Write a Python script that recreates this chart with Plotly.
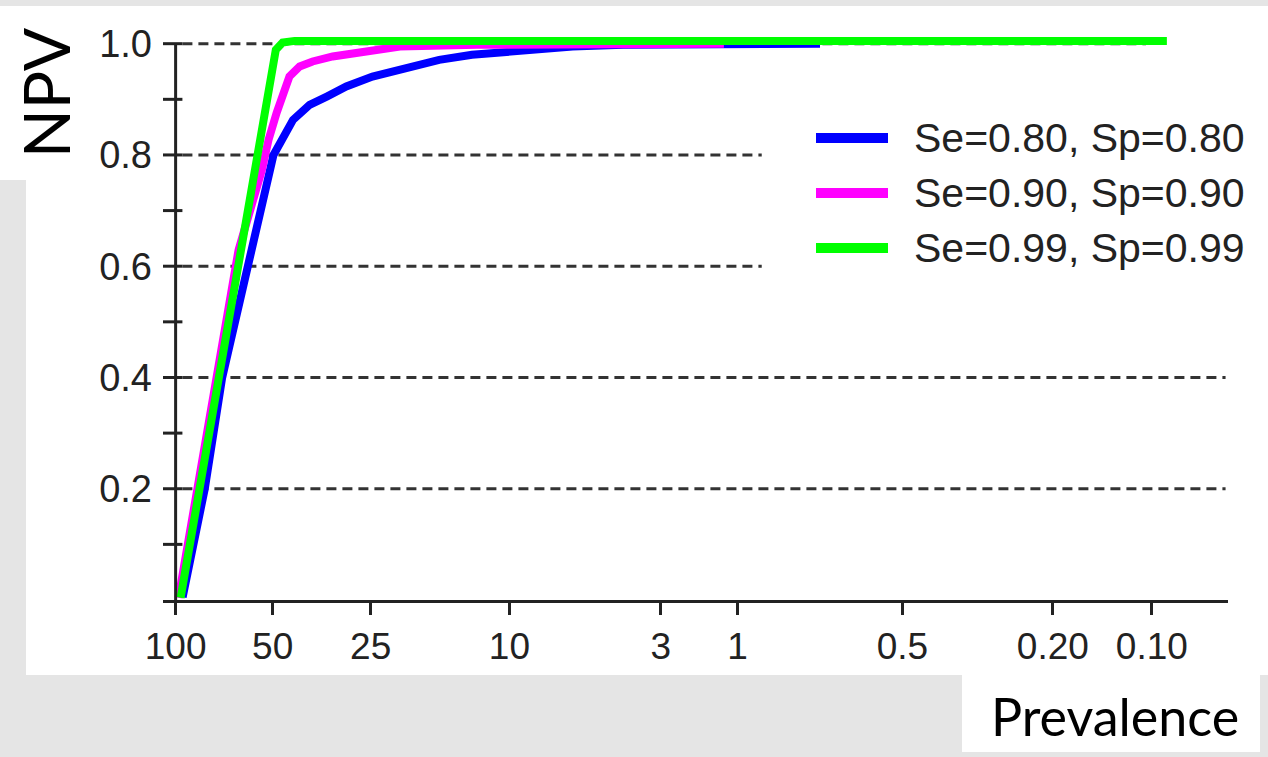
import numpy as np
import plotly.graph_objects as go

# ---------------- data ----------------
tick_prev = [100, 50, 25, 10, 3, 1, 0.5, 0.2, 0.1]
tick_text = ["100", "50", "25", "10", "3", "1", "0.5", "0.20", "0.10"]
# axis slot of each prevalence tick (the chart's own non-uniform scale)
tick_pos = [0.0, 1.0, 2.01, 3.44, 5.0, 5.79, 7.49, 9.04, 10.06]

y_tick_vals = [0.2, 0.4, 0.6, 0.8, 1.0]
y_tick_text = ["0.2", "0.4", "0.6", "0.8", "1.0"]

series_names = ["Se=0.80, Sp=0.80", "Se=0.90, Sp=0.90", "Se=0.99, Sp=0.99"]

prev_blue = [95.1, 81.2, 71.7, 59.5, 49.7, 43.3, 38.5, 34.1, 29.7, 24.7, 19.7,
             15.9, 12.8, 10.2, 7.87, 6.05, 4.05, 0.707]
npv_blue = [0.005, 0.20, 0.40, 0.60, 0.80, 0.863, 0.890, 0.905, 0.923, 0.941,
            0.957, 0.971, 0.980, 0.986, 0.991, 0.995, 0.998, 1.0]

prev_mag = [97.9, 63.8, 54.0, 51.5, 48.6, 46.6, 44.4, 41.3, 37.7, 32.7, 28.0,
            20.6, 12.4, 1.215]
npv_mag = [0.004, 0.629, 0.773, 0.827, 0.876, 0.912, 0.941, 0.959, 0.968,
           0.977, 0.984, 0.995, 0.998, 1.0]

prev_green = [96.5, 48.9, 46.6, 42.8, 0.09]
npv_green = [0.004, 0.989, 1.002, 1.005, 1.005]

colors = ["#0000ff", "#ff00ff", "#00ff00"]


# ---------------- custom prevalence scale ----------------
def prev_to_pos(p):
    lp = -np.log(np.asarray(p, dtype=float))
    lt = -np.log(np.asarray(tick_prev, dtype=float))
    tp = np.asarray(tick_pos, dtype=float)
    out = np.interp(lp, lt, tp)
    hi = lp > lt[-1]
    slope = (tp[-1] - tp[-2]) / (lt[-1] - lt[-2])
    out[hi] = tp[-1] + (lp[hi] - lt[-1]) * slope
    return out


# ---------------- layout geometry (pixels) ----------------
W, H = 1268, 757
PL, PR, PT, PB = 163, 1228, 27, 600
X_MIN, X_MAX = -0.13, 10.845
Y_MIN, Y_MAX = 0.0, 1.03


def px(x):
    return (x - PL) / (PR - PL)


def py(y):
    return (PB - y) / (PB - PT)


fig = go.Figure()

for name, pv, nv, c in zip(series_names, [prev_blue, prev_mag, prev_green],
                           [npv_blue, npv_mag, npv_green], colors):
    fig.add_trace(go.Scatter(
        x=prev_to_pos(pv), y=nv, mode="lines", name=name,
        line=dict(color=c, width=8), showlegend=False,
        hoverinfo="skip"))

shapes = []
# background white panels
grey = "#e5e5e5"
for (x0, y0, x1, y1) in [(26, 6, 1268, 675), (0, 6, 26, 180), (962, 675, 1260, 752)]:
    shapes.append(dict(type="rect", xref="paper", yref="paper",
                       x0=px(x0), x1=px(x1), y0=py(y1), y1=py(y0),
                       fillcolor="white", line=dict(width=0), layer="below"))

# dashed grid lines
grid_end = {0.2: 10.82, 0.4: 10.82, 0.6: 6.04, 0.8: 6.04, 1.0: 10.0}
for v in y_tick_vals:
    shapes.append(dict(type="line", xref="x", yref="y", x0=0.07, x1=grid_end[v],
                       y0=v, y1=v, line=dict(color="#333333", width=3, dash="10px,6px"),
                       layer="below"))

# y axis line and crossing ticks
shapes.append(dict(type="line", xref="x", yref="y", x0=0, x1=0, y0=0, y1=1.0,
                   line=dict(color="#222222", width=3)))
for k in range(1, 11):
    v = k / 10
    shapes.append(dict(type="line", xref="x", yref="y", x0=X_MIN, x1=0.07,
                       y0=v, y1=v, line=dict(color="#222222", width=3)))

annotations = []
# manual legend
for i, (name, c) in enumerate(zip(series_names, colors)):
    yy = 138 + i * 55
    shapes.append(dict(type="line", xref="paper", yref="paper",
                       x0=px(816), x1=px(888), y0=py(yy), y1=py(yy),
                       line=dict(color=c, width=10)))
    annotations.append(dict(xref="paper", yref="paper", x=px(912), y=py(yy),
                            text=name, showarrow=False, xanchor="left", yanchor="middle",
                            font=dict(family="Liberation Sans, Arial", size=41, color="#222222")))

annotations.append(dict(xref="paper", yref="paper", x=px(45), y=py(93), text="NPV",
                        textangle=-90, showarrow=False, xanchor="center", yanchor="middle",
                        font=dict(family="Lato, Noto Sans", size=64, color="black")))
annotations.append(dict(xref="paper", yref="paper", x=px(1115), y=py(716), text="Prevalence",
                        showarrow=False, xanchor="center", yanchor="middle",
                        font=dict(family="Lato, Noto Sans", size=52, color="black")))

fig.update_layout(
    width=W, height=H,
    margin=dict(l=PL, r=W - PR, t=PT, b=H - PB, pad=0),
    paper_bgcolor=grey, plot_bgcolor="white",
    shapes=shapes, annotations=annotations,
    xaxis=dict(range=[X_MIN, X_MAX], showgrid=False, zeroline=False,
               showline=True, linecolor="#222222", linewidth=3,
               ticks="outside", ticklen=12, tickwidth=2.5, tickcolor="#222222",
               tickvals=tick_pos, ticktext=tick_text,
               tickfont=dict(family="Liberation Sans, Arial", size=37, color="#222222")),
    yaxis=dict(range=[Y_MIN, Y_MAX], showgrid=False, zeroline=False, showline=False,
               ticks="", tickvals=y_tick_vals, ticktext=y_tick_text,
               ticklabelstandoff=10,
               tickfont=dict(family="Liberation Sans, Arial", size=38, color="#222222")),
    showlegend=False,
)

fig.write_html("out.html", config={"displayModeBar": False},
               post_script="document.body.style.margin='0px';document.body.style.padding='0px';")
